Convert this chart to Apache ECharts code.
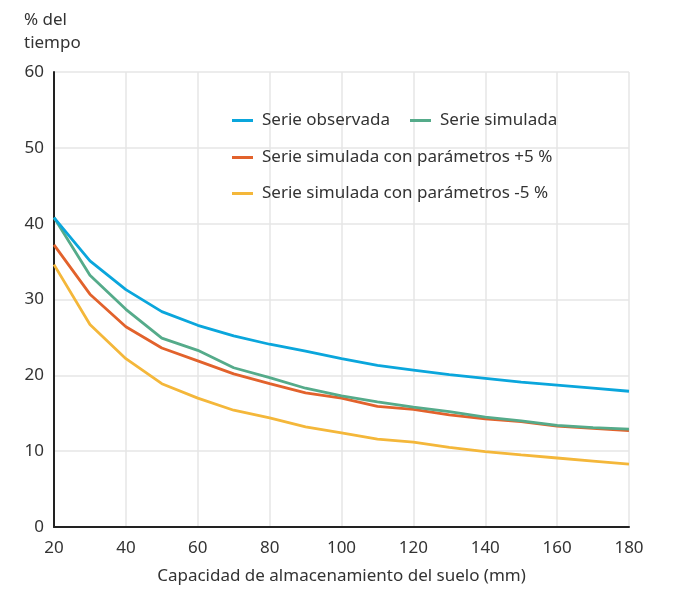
<!DOCTYPE html>
<html>
<head>
<meta charset="utf-8">
<script src="https://cdn.jsdelivr.net/npm/echarts@6/dist/echarts.min.js"></script>
<style>html,body{margin:0;padding:0;background:#fff}#c{width:697px;height:590px}</style>
</head>
<body>
<div id="c"></div>
<script>
const categories = [20,30,40,50,60,70,80,90,100,110,120,130,140,150,160,170,180];
const serieObservada = [40.8,35.1,31.3,28.4,26.6,25.2,24.1,23.2,22.2,21.3,20.7,20.1,19.6,19.1,18.7,18.3,17.9];
const serieSimulada = [40.8,33.2,28.7,24.9,23.3,21.0,19.7,18.3,17.3,16.5,15.8,15.2,14.5,14.0,13.4,13.1,12.9];
const serieMas5 = [37.2,30.7,26.4,23.6,21.9,20.2,18.9,17.7,17.0,15.9,15.5,14.8,14.25,13.9,13.3,13.0,12.7];
const serieMenos5 = [34.6,26.7,22.2,18.9,17.0,15.4,14.4,13.2,12.4,11.6,11.2,10.5,9.95,9.5,9.1,8.7,8.3];
const xTicks = [20,40,60,80,100,120,140,160,180];
const yTicks = [0,10,20,30,40,50,60];

const names = ['Serie observada','Serie simulada','Serie simulada con parámetros +5 %','Serie simulada con parámetros -5 %'];
const colors = ['#0aa6dc','#55ab8a','#e2622c','#f4b73a'];
const values = [serieObservada, serieSimulada, serieMas5, serieMenos5];
const FONT = 'Noto Sans';

const chart = echarts.init(document.getElementById('c'), null, {renderer:'canvas'});
const legendBase = {
  orient:'horizontal', icon:'rect', itemWidth:21, itemHeight:3, itemGap:20,
  textStyle:{fontFamily:FONT, fontSize:17, color:'#333', padding:[0,0,0,4]},
  padding:0, selectedMode:false
};
chart.setOption({
  animation:false,
  textStyle:{fontFamily:FONT},
  grid:{left:54, right:68, top:72, bottom:62, containLabel:false},
  legend:[
    Object.assign({}, legendBase, {left:232, top:112, data:[names[0], names[1]]}),
    Object.assign({}, legendBase, {left:232, top:149, data:[names[2]]}),
    Object.assign({}, legendBase, {left:232, top:185, data:[names[3]]})
  ],
  xAxis:{
    type:'value', min:20, max:180, interval:20,
    name:'Capacidad de almacenamiento del suelo (mm)', nameLocation:'middle', nameGap:41,
    nameTextStyle:{fontFamily:FONT, fontSize:17, color:'#333'},
    axisLine:{show:true, onZero:false, lineStyle:{color:'#222', width:2}},
    axisTick:{show:false},
    axisLabel:{fontFamily:FONT, fontSize:17, color:'#333', margin:13,
      formatter:v => xTicks.includes(v) ? String(v) : ''},
    splitLine:{show:true, lineStyle:{color:'#e6e6e6', width:1.5}}
  },
  yAxis:{
    type:'value', min:0, max:60, interval:10,
    axisLine:{show:true, lineStyle:{color:'#222', width:2}},
    axisTick:{show:false},
    axisLabel:{fontFamily:FONT, fontSize:17, color:'#333', margin:10,
      formatter:v => yTicks.includes(v) ? String(v) : ''},
    splitLine:{show:true, lineStyle:{color:'#e6e6e6', width:1.5}}
  },
  graphic:[{
    type:'text', left:24, top:9,
    style:{text:'% del\ntiempo', fontFamily:FONT, fontSize:17, fill:'#333', lineHeight:23}
  }],
  series: names.map((n,i) => ({
    name:n, type:'line', symbol:'none', smooth:false,
    data: categories.map((x,j) => [x, values[i][j]]),
    lineStyle:{color:colors[i], width:2.8},
    itemStyle:{color:colors[i]},
    z: 10 - i
  }))
});
</script>
</body>
</html>
